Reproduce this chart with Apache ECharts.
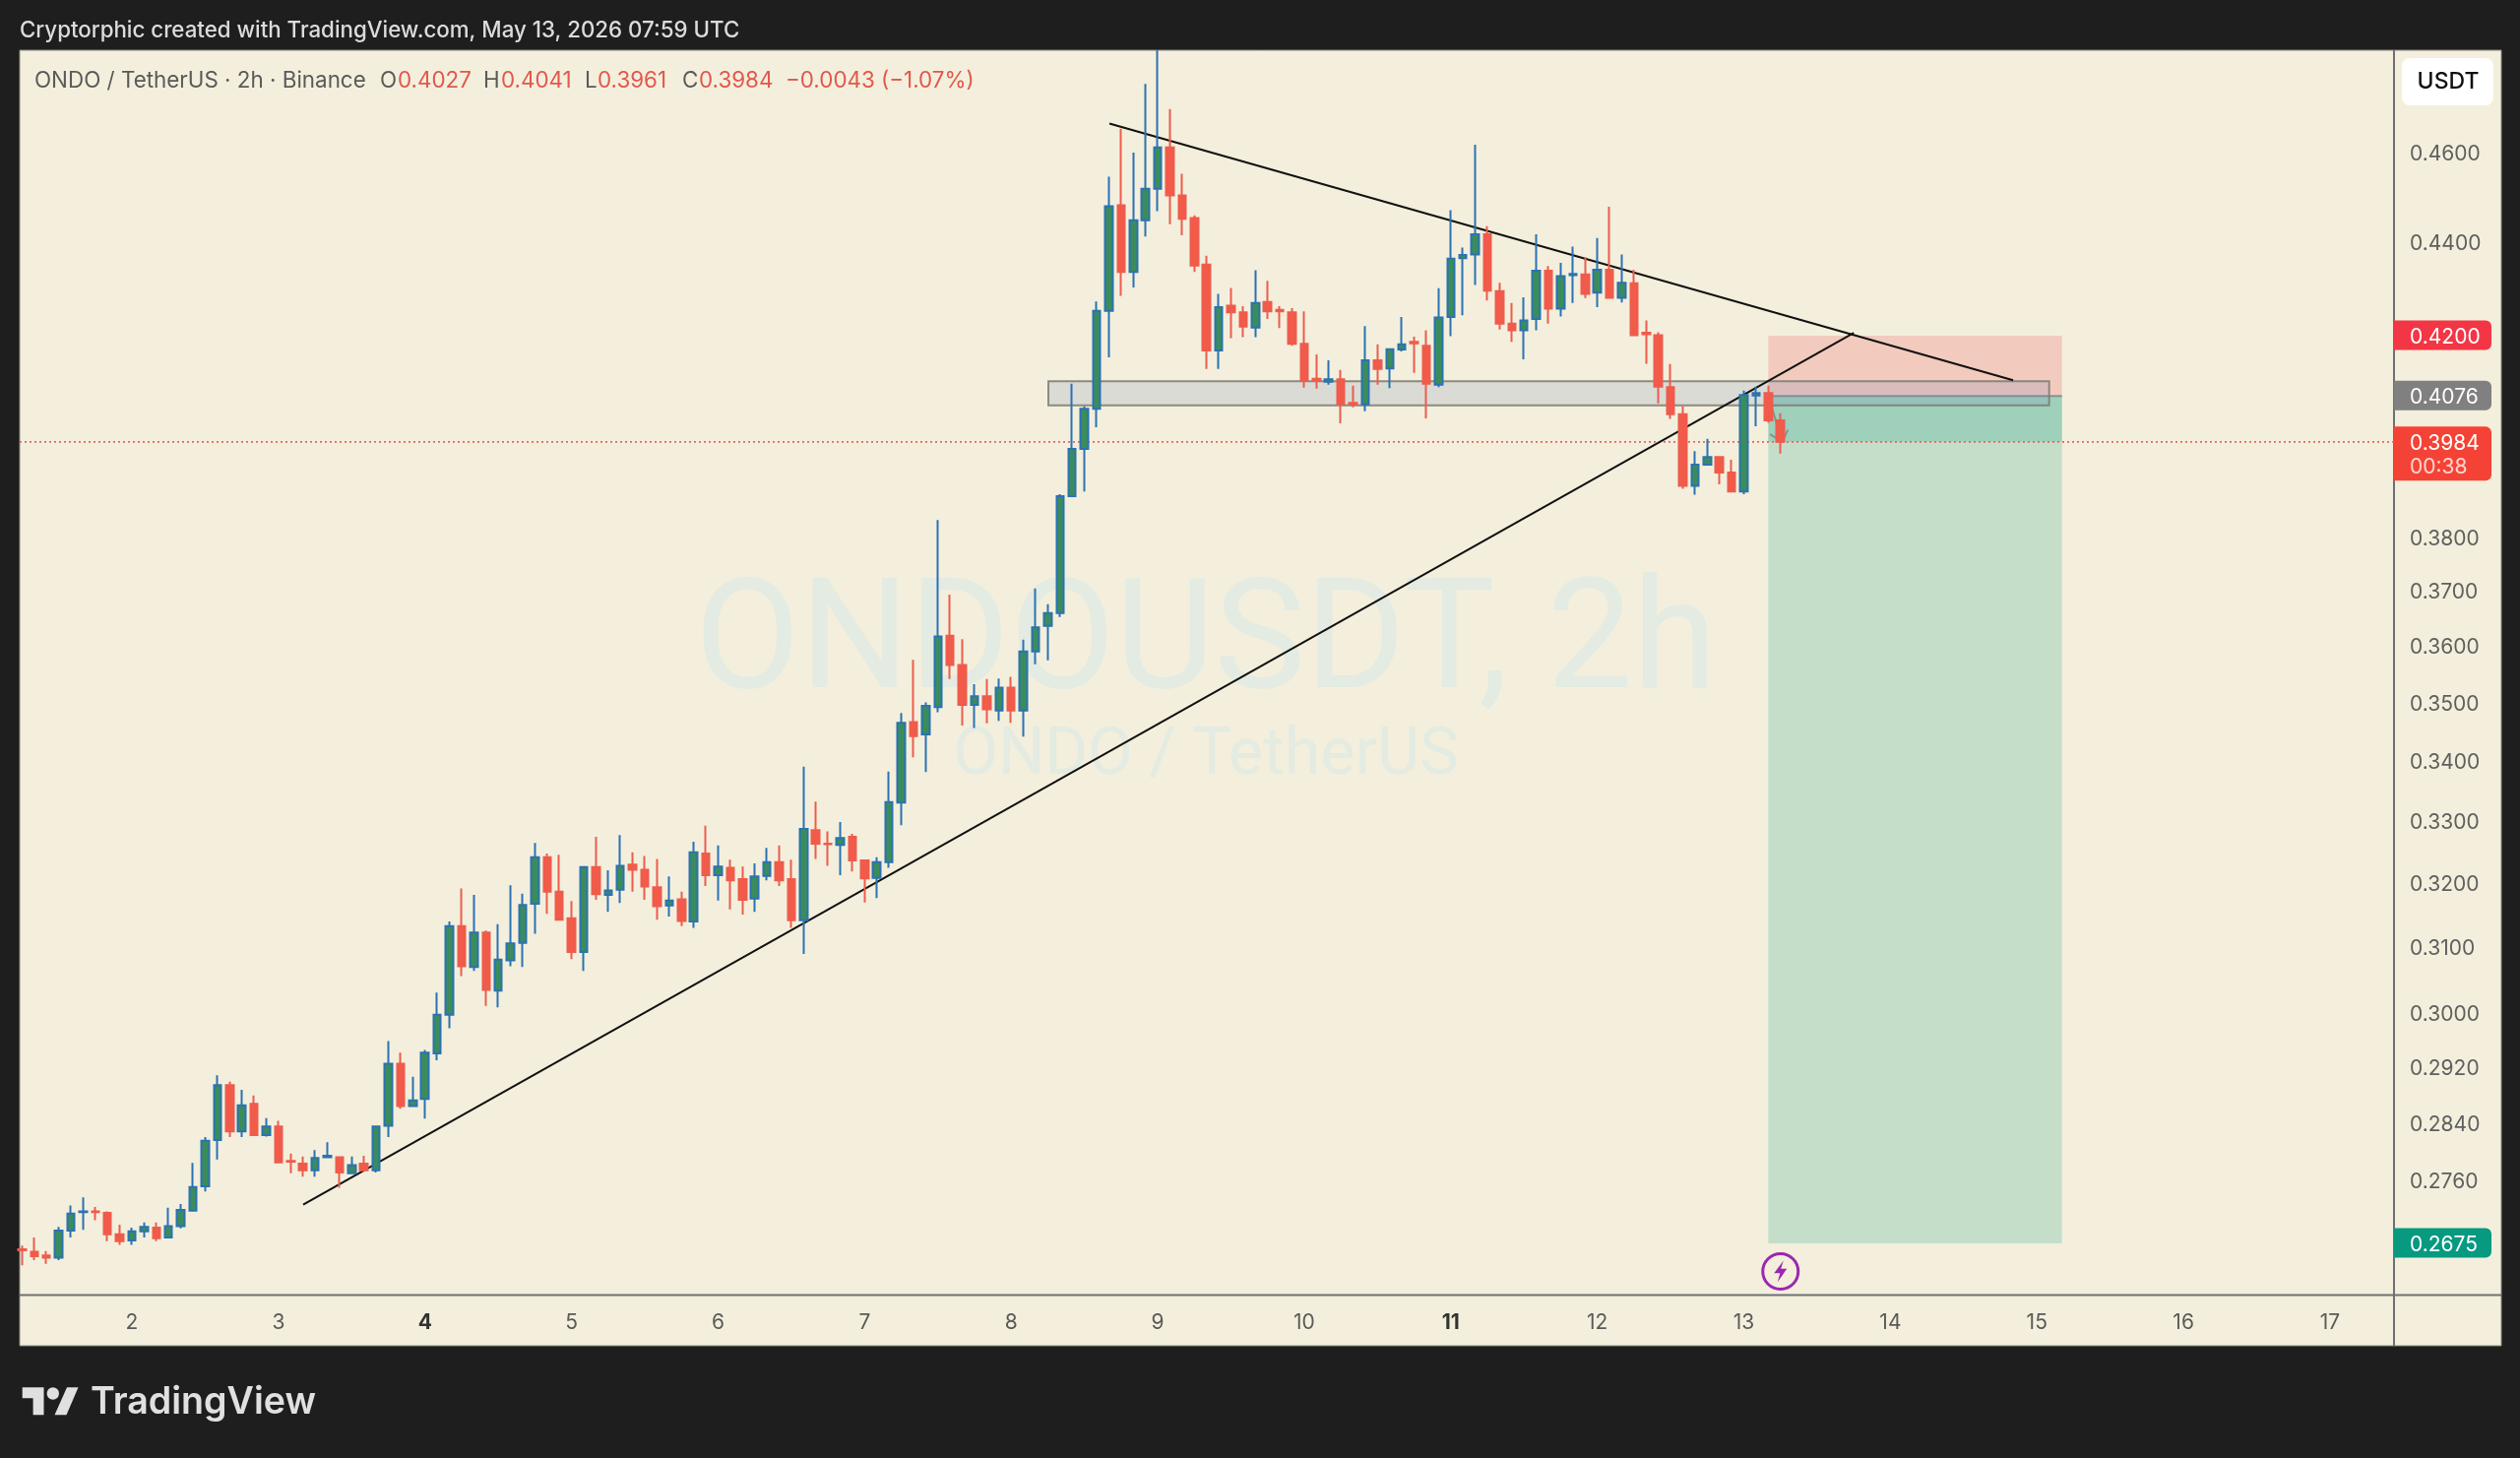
<!DOCTYPE html>
<html><head><meta charset="utf-8">
<style>html,body{margin:0;padding:0;background:#1e1e1e}#c{width:2560px;height:1481px}</style>
<script src="https://cdn.jsdelivr.net/npm/echarts@6/dist/echarts.min.js"></script>
</head><body><div id="c"></div>
<script>
// Hours since May 1 00:00 UTC, one per 2h candle
const hours = [6,8,10,12,14,16,18,20,22,24,26,28,30,32,34,36,38,40,42,44,46,48,50,52,54,56,58,60,62,64,
66,68,70,72,74,76,78,80,82,84,86,88,90,92,94,96,98,100,102,104,106,108,110,112,114,116,118,120,122,124,
126,128,130,132,134,136,138,140,142,144,146,148,150,152,154,156,158,160,162,164,166,168,170,172,174,176,178,180,182,184,
186,188,190,192,194,196,198,200,202,204,206,208,210,212,214,216,218,220,222,224,226,228,230,232,234,236,238,240,242,244,
246,248,250,252,254,256,258,260,262,264,266,268,270,272,274,276,278,280,282,284,286,288,290,292,294];
const opens = [.2667,.2664,.2659,.2656,.2692,.2717,.2718,.2716,.2687,.2679,
.2691,.2696,.2683,.2698,.2719,.2752,.2816,.2894,.2828,.2867,
.2823,.2835,.2787,.2783,.2774,.2792,.2792,.2770,.2783,.2774,
.2836,.2925,.2864,.2874,.2940,.2997,.3132,.3069,.3122,.3033,
.3079,.3106,.3167,.3241,.3186,.3144,.3092,.3225,.3181,.3189,
.3229,.3221,.3193,.3164,.3174,.3139,.3247,.3212,.3224,.3206,
.3175,.3211,.3233,.3206,.3141,.3285,.3263,.3261,.3274,.3236,
.3208,.3233,.3330,.3466,.3445,.3492,.3618,.3566,.3496,.3511,
.3486,.3526,.3486,.3590,.3636,.3659,.3878,.3970,.4050,.4252,
.4481,.4335,.4448,.4518,.4612,.4503,.4453,.4351,.4169,.4263,
.4249,.4217,.4271,.4254,.4249,.4183,.4111,.4105,.4110,.4062,
.4059,.4149,.4132,.4171,.4187,.4179,.4099,.4239,.4365,.4373,
.4417,.4294,.4225,.4211,.4235,.4338,.4257,.4328,.4330,.4291,
.4340,.4280,.4311,.4206,.4201,.4094,.4039,.3898,.3939,.3954,
.3924,.3887,.4077,.4082,.4027];
const closes = [.2666,.2658,.2656,.2692,.2715,.2718,.2717,.2687,.2678,.2691,
.2697,.2682,.2698,.2720,.2751,.2815,.2894,.2828,.2865,.2823,
.2835,.2785,.2786,.2774,.2791,.2794,.2771,.2781,.2774,.2835,
.2925,.2864,.2872,.2941,.2997,.3132,.3070,.3122,.3034,.3080,
.3105,.3165,.3241,.3186,.3142,.3092,.3225,.3182,.3188,.3227,
.3221,.3194,.3163,.3172,.3140,.3249,.3212,.3226,.3204,.3173,
.3210,.3233,.3204,.3141,.3287,.3263,.3262,.3272,.3236,.3207,
.3233,.3331,.3465,.3442,.3494,.3617,.3566,.3496,.3511,.3488,
.3526,.3486,.3590,.3633,.3659,.3878,.3970,.4050,.4252,.4479,
.4335,.4448,.4518,.4612,.4503,.4451,.4349,.4169,.4260,.4249,
.4219,.4269,.4251,.4251,.4183,.4107,.4107,.4110,.4060,.4059,
.4149,.4131,.4172,.4182,.4184,.4101,.4238,.4364,.4372,.4417,
.4295,.4225,.4211,.4232,.4338,.4257,.4326,.4331,.4288,.4340,
.4280,.4312,.4201,.4203,.4095,.4039,.3898,.3939,.3954,.3924,
.3887,.4078,.4082,.4027,.3984];
const lows = [.2646,.2653,.2648,.2653,.2683,.2693,.2706,.2678,.2673,.2673,
.2683,.2678,.2683,.2695,.2719,.2745,.2789,.2820,.2820,.2823,
.2821,.2785,.2770,.2765,.2765,.2792,.2750,.2770,.2772,.2771,
.2820,.2860,.2864,.2846,.2930,.2977,.3055,.3063,.3010,.3008,
.3070,.3069,.3120,.3151,.3141,.3081,.3063,.3173,.3154,.3168,
.3186,.3173,.3142,.3147,.3132,.3129,.3195,.3172,.3158,.3150,
.3154,.3204,.3195,.3129,.3089,.3238,.3227,.3212,.3218,.3169,
.3176,.3224,.3293,.3406,.3381,.3483,.3541,.3460,.3456,.3464,
.3468,.3465,.3441,.3567,.3574,.3652,.3876,.3887,.4013,.4155,
.4284,.4302,.4412,.4468,.4439,.4415,.4335,.4131,.4131,.4195,
.4197,.4197,.4235,.4216,.4179,.4093,.4091,.4099,.4021,.4053,
.4045,.4099,.4092,.4167,.4123,.4031,.4094,.4199,.4243,.4307,
.4274,.4213,.4187,.4151,.4211,.4225,.4240,.4269,.4279,.4260,
.4279,.4270,.4200,.4142,.4061,.4030,.3892,.3881,.3937,.3901,
.3885,.3882,.4015,.4022,.3961];
const highs = [.2672,.2683,.2665,.2697,.2726,.2737,.2724,.2718,.2700,.2696,
.2703,.2703,.2723,.2728,.2784,.2820,.2908,.2899,.2887,.2879,
.2847,.2843,.2797,.2793,.2802,.2813,.2793,.2793,.2794,.2836,
.2958,.2941,.2906,.2945,.3030,.3139,.3191,.3181,.3125,.3135,
.3196,.3183,.3264,.3247,.3245,.3171,.3226,.3274,.3220,.3277,
.3249,.3243,.3238,.3210,.3186,.3266,.3292,.3260,.3237,.3226,
.3231,.3256,.3260,.3237,.3390,.3332,.3283,.3298,.3279,.3237,
.3241,.3382,.3482,.3575,.3500,.3832,.3693,.3612,.3532,.3541,
.3542,.3545,.3611,.3704,.3675,.3882,.4101,.4055,.4272,.4545,
.4655,.4600,.4760,.4840,.4701,.4552,.4459,.4370,.4288,.4301,
.4262,.4339,.4316,.4262,.4258,.4251,.4161,.4149,.4129,.4097,
.4220,.4182,.4173,.4239,.4198,.4211,.4300,.4470,.4388,.4618,
.4435,.4312,.4269,.4281,.4417,.4348,.4355,.4390,.4367,.4409,
.4478,.4373,.4340,.4232,.4207,.4141,.4055,.3966,.3990,.3954,
.3949,.4087,.4095,.4097,.4041];

const dayHours = [24,48,72,96,120,144,168,192,216,240,264,288,312,336,360,384]; // day 2 .. day 17
const boldDays = [4,11];
const priceTicks = [.46,.44,.38,.37,.36,.35,.34,.33,.32,.31,.30,.292,.284,.276];

const lastPrice = .3984, stopPrice = .42, entryPrice = .4076, targetPrice = .2675;
const supportLine = [[52.05,.2727],[306,.4206]];
const resistanceLine = [[184.1,.4667],[332.1,.4108]];
const grayBox = [174.1,338,.4106,.4057];
const tradeSpan = [292,340.1];
const tradeArrow = [[292,.4076],[294.3,.3984]];
const arrowBarbL = [[292.3,.3999],[294.3,.3984],[295.2,.4008]];
const signalPoint = [294,.2638];
const tagPrices = [stopPrice,entryPrice,lastPrice,targetPrice];
const tagTexts = ['0.4200','0.4076','0.3984','0.2675'];
const countdown = '00:38';

const BG='#f3efdc', DARK='#1e1e1e', FONT='Inter, "Liberation Sans", sans-serif';
const X_MIN=5.62, X_MAX=394.48, Y_MIN=.26078, Y_MAX=.48402;
const tagColors=['#f23645','#808080','#f44336','#089981'];

const candles = hours.map((h,i)=>[h,opens[i],closes[i],lows[i],highs[i]]);

function rect(api,x0,x1,p0,p1,style){
  const a=api.coord([x0,p0]), b=api.coord([x1,p1]);
  return {type:'rect',shape:{x:a[0],y:a[1],width:b[0]-a[0],height:b[1]-a[1]},style};
}
function lineSeries(data,color,width,type,z){
  return {type:'line',data,symbol:'none',silent:true,z,animation:false,clip:true,
    lineStyle:{color,width,type:type||'solid',cap:'butt'}};
}
const text=(x,y,s,fill,size,extra)=>Object.assign({type:'text',x,y:y+1.5,z:1,silent:true,
  style:Object.assign({text:s,fill,font:`${(extra&&extra.weight)||400} ${size}px ${(extra&&extra.family)||FONT}`,textVerticalAlign:'middle',textAlign:'left'},extra||{})});

const LEG='#5a5a5a', RED='#e2574c', LEGY=81;
const graphic=[
  {type:'rect',shape:{x:20,y:51,width:2521,height:1316},z:-2,silent:true,style:{fill:BG,stroke:'#8a8a80',lineWidth:1}},
  text(1225,658,'ONDOUSDT, 2h','#e3ebe2',155.5,{textAlign:'center',family:'Roboto'}),
  text(1225,768,'ONDO / TetherUS','#e3ebe2',66.5,{textAlign:'center',family:'Roboto'}),
  text(20,29.5,'Cryptorphic created with TradingView.com, May 13, 2026 07:59 UTC','#dcdcdc',22.3,{weight:500}),
  text(35,LEGY,'ONDO / TetherUS · 2h · Binance',LEG,22.4),
  text(386,LEGY,'O',LEG,22.4), text(404,LEGY,'0.4027',RED,22.4),
  text(491,LEGY,'H',LEG,22.4), text(509,LEGY,'0.4041',RED,22.4),
  text(594,LEGY,'L',LEG,22.4), text(607,LEGY,'0.3961',RED,22.4),
  text(693,LEGY,'C',LEG,22.4), text(710,LEGY,'0.3984',RED,22.4),
  text(798,LEGY,'−0.0043 (−1.07%)',RED,22.4),
  {type:'line',shape:{x1:2432,y1:51,x2:2432,y2:1367},z:1,silent:true,style:{stroke:'#6f7072',lineWidth:2}},
  {type:'line',shape:{x1:20,y1:1315.5,x2:2541,y2:1315.5},z:1,silent:true,style:{stroke:'#6f7072',lineWidth:2}},
  {type:'rect',shape:{x:2440,y:59,width:93,height:48,r:8},z:1,silent:true,style:{fill:'#ffffff'}},
  text(2487,82,'USDT','#111111',23,{textAlign:'center',weight:500}),
  {type:'polygon',shape:{points:[[22.7,1409.3],[44.5,1409.3],[44.5,1437.3],[33.6,1437.3],[33.6,1420.2],[22.7,1420.2]]},z:1,silent:true,style:{fill:'#e0e0e0'}},
  {type:'circle',shape:{cx:53.8,cy:1415.5,r:6.2},z:1,silent:true,style:{fill:'#e0e0e0'}},
  {type:'polygon',shape:{points:[[68,1409.3],[79.5,1409.3],[67.5,1437.3],[55.5,1437.3]]},z:1,silent:true,style:{fill:'#e0e0e0'}},
  text(92,1423.5,'TradingView','#e0e0e0',37.6,{weight:600})
];

const chart=echarts.init(document.getElementById('c'),null,{renderer:'canvas',width:2560,height:1481,devicePixelRatio:1});
chart.setOption({
  animation:false,
  backgroundColor:DARK,
  textStyle:{fontFamily:FONT},
  graphic:{elements:graphic},
  grid:{left:20,right:128,top:51,bottom:166,containLabel:false,show:false},
  xAxis:{type:'value',min:X_MIN,max:X_MAX,
    axisLine:{show:false},axisTick:{show:false},splitLine:{show:false},
    axisLabel:{customValues:dayHours,margin:18,color:'#5a5a5a',fontSize:21,fontFamily:FONT,hideOverlap:false,showMinLabel:true,showMaxLabel:true,
      formatter:v=>{const d=v/24+1;return boldDays.includes(d)?'{b|'+d+'}':String(d);},
      rich:{b:{fontWeight:700,fontSize:21,color:'#333333',fontFamily:FONT}}}},
  yAxis:{type:'log',logBase:Math.E,min:Y_MIN,max:Y_MAX,position:'right',
    axisLine:{show:false},axisTick:{show:false},splitLine:{show:false},minorTick:{show:false},minorSplitLine:{show:false},
    axisLabel:{customValues:priceTicks,margin:16,color:'#5f5f5f',fontSize:21,fontFamily:FONT,formatter:v=>'{n|'+v.toFixed(4)+'}',showMinLabel:true,showMaxLabel:true,hideOverlap:false,
      rich:{n:{color:'#5f5f5f',fontSize:21,fontFamily:FONT,padding:[4,0,0,0]}}}},
  series:[
    {type:'custom',z:1,silent:true,clip:true,data:[[0]],
     encode:{x:0},
     renderItem:(p,api)=>{return {type:'group',children:[
        rect(api,tradeSpan[0],tradeSpan[1],stopPrice,entryPrice,{fill:'rgba(242,54,69,.2)'}),
        rect(api,tradeSpan[0],tradeSpan[1],entryPrice,targetPrice,{fill:'rgba(8,153,129,.2)'}),
        rect(api,tradeSpan[0],tradeSpan[1],entryPrice,lastPrice,{fill:'rgba(8,153,129,.2)'}),
        rect(api,grayBox[0],grayBox[1],grayBox[2],grayBox[3],{fill:'rgba(118,138,185,.2)',stroke:'rgba(125,122,110,.85)',lineWidth:2})
     ]};}},
    lineSeries([[X_MIN,lastPrice],[X_MAX,lastPrice]],'#e5685c',1.6,[2,3],2),
    lineSeries([[tradeSpan[0],entryPrice],[tradeSpan[1],entryPrice]],'rgba(120,123,134,.75)',2,'solid',2),
    lineSeries(tradeArrow,'#8a8f8a',2,'solid',2),
    lineSeries(arrowBarbL,'#8a8f8a',2,'solid',2),
    lineSeries(supportLine,'#111111',2,'solid',3),
    lineSeries(resistanceLine,'#111111',2,'solid',3),
    {type:'candlestick',z:5,silent:true,clip:true,barWidth:8,data:candles,
     encode:{x:0,y:[1,2,3,4]},
     itemStyle:{color:'#3a8d5a',color0:'#f25a4a',borderColor:'#2b72b3',borderColor0:'#ee5c4c',borderWidth:2}},
    {type:'scatter',z:6,silent:true,data:[signalPoint],symbol:'circle',symbolSize:36,
     itemStyle:{color:BG,borderColor:'#9c27b0',borderWidth:3,opacity:1}},
    {type:'scatter',z:7,silent:true,data:[signalPoint],symbol:'path://M13 0 L2 14 H9 L6 24 L17 9 H10 Z',symbolSize:[13,22],
     itemStyle:{color:'#9c27b0',opacity:1}},
    {type:'custom',z:8,silent:true,clip:false,
     data:tagPrices.map((p,i)=>[X_MAX,p,i]),encode:{x:0,y:1},
     renderItem:(params,api)=>{
       const i=api.value(2), pos=api.coord([api.value(0),api.value(1)]);
       const big=i===2, w=99, h=big?55:30, top=pos[1]-15.5;
       const kids=[
        {type:'rect',shape:{x:pos[0],y:top,width:w,height:h,r:[0,6,6,0]},style:{fill:tagColors[i]}},
        {type:'text',x:pos[0]+16,y:pos[1]+1.5,style:{text:tagTexts[i],fill:'#ffffff',font:`400 21px ${FONT}`,textVerticalAlign:'middle',textAlign:'left'}}
       ];
       if(big)kids.push({type:'text',x:pos[0]+16,y:pos[1]+25.5,style:{text:countdown,fill:'#ffd5d0',font:`400 21px ${FONT}`,textVerticalAlign:'middle',textAlign:'left'}});
       return {type:'group',children:kids};
     }}
  ]
});
</script></body></html>
